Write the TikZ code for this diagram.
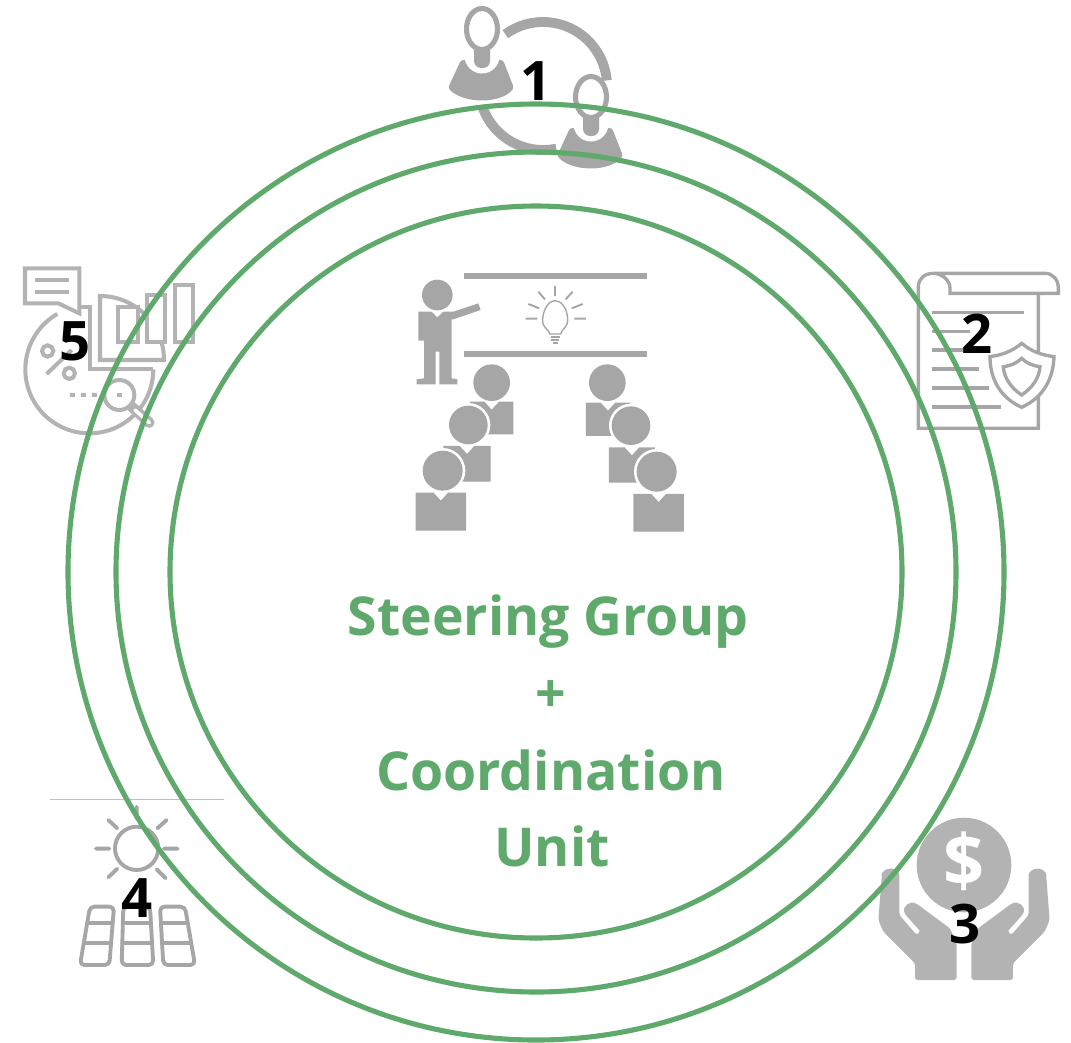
\documentclass[tikz,border=0pt]{standalone}
\usepackage{fontspec}
\setmainfont{Open Sans}
\definecolor{ringgreen}{HTML}{5EA96B}
\definecolor{icongray}{HTML}{A6A6A6}
\definecolor{icongrayb}{HTML}{B3B3B3}
\tikzset{
  ring/.style={draw=ringgreen,line width=2.9pt},
  numlabel/.style={anchor=base,inner sep=0pt,text=black,font=\fontsize{31}{31}\selectfont\bfseries},
  titlelabel/.style={anchor=base,inner sep=0pt,text=ringgreen,font=\fontsize{30.5}{31}\selectfont\bfseries},
  stroke5/.style={draw=icongrayb,line width=2.3pt},
  stroke2/.style={draw=icongray,line width=1.9pt},
  stroke4/.style={draw=icongray,line width=2.2pt,line cap=round,line join=round},
}
\newcommand{\myperson}[2]{%
  \begin{scope}[shift={(#1,#2)}]
    \fill[icongray,rounded corners=1.5pt] (461,60) -- (503,60) -- (514,88) .. controls (500,104) and (464,104) .. (448,88) -- cycle;
    \fill[white] (482,56) circle[radius=17.5];
    \fill[icongray,rounded corners=4pt] (474,44) rectangle (490,68);
    \draw[icongray,line width=2.9pt,fill=white] (482,29) ellipse[x radius=15.5,y radius=20.5];
  \end{scope}}
\newcommand{\mystudent}[7]{% head x,y,r; body x1,y1,x2,y2
  \fill[white] (#1,#2) circle[radius=#3+8];
  \fill[icongray] (#1,#2) circle[radius=#3];
  \fill[icongray] (#4,#5) -- ({(#4+#6)/2-22},#5) -- ({(#4+#6)/2},#5+24) -- ({(#4+#6)/2+22},#5) -- (#6,#5) -- (#6,#7) -- (#4,#7) -- cycle;}
\newcommand{\myhand}{%
  \fill[icongrayb,rounded corners=1.5pt] (65,232) arc[start angle=180,end angle=360,radius=26.5] -- (118,345) -- (170,405) -- (182,395) -- (137,345) .. controls (125,320) and (150,300) .. (175,315) -- (270,385) -- (290,430) -- (290,540) -- (165,540) -- (165,490) -- (70,395) -- (55,360) -- cycle;}
\begin{document}
\begin{tikzpicture}[x=0.02cm,y=0.02cm,yscale=-1]
\useasboundingbox (0,0) rectangle (1071,1042);
% icon 1
\draw[icongray,line width=5.6pt] (543,86) ++(234:64) arc[start angle=234,end angle=355,radius=64];
\draw[icongray,line width=5.6pt] (543,86) ++(78:64) arc[start angle=78,end angle=160,radius=64];
\myperson{0}{0}
\myperson{109}{68}
% presenter icon
\begin{scope}[shift={(400,260)},scale=0.3333]
  \fill[icongray] (193,38) rectangle (740,57);
  \fill[icongray] (193,272) rectangle (740,291);
  \fill[icongray] (112,105) circle[radius=46];
  \fill[icongray] (55,155) -- (95,155) -- (112,172) -- (130,155) -- (160,155) -- (235,130) -- (242,150) -- (160,178) -- (155,178) -- (155,355) -- (172,358) -- (172,373) -- (118,373) -- (118,275) -- (107,275) -- (107,373) -- (50,373) -- (50,358) -- (72,355) -- (72,242) -- (55,242) -- cycle;
  \draw[icongray,line width=1.1pt] (465,78) -- (465,108) (415,95) -- (435,118) (518,95) -- (497,118) (385,132) -- (418,145) (548,132) -- (515,145) (377,176) -- (412,176) (523,176) -- (558,176);
  \draw[icongray,line width=0.8pt] (450,222) .. controls (445,205) and (425,205) .. (428,175) .. controls (432,140) and (450,122) .. (465,122) .. controls (482,122) and (500,140) .. (503,175) .. controls (505,205) and (485,205) .. (482,222) -- cycle;
  \draw[icongray,line width=1.1pt] (452,232) -- (480,232) (454,241) -- (478,241) (458,250) -- (474,250);
  \mystudent{275}{368}{55}{210}{425}{340}{523}
  \mystudent{205}{495}{58}{130}{558}{272}{665}
  \mystudent{128}{632}{60}{47}{698}{198}{812}
  \mystudent{622}{368}{55}{558}{428}{690}{528}
  \mystudent{693}{497}{58}{627}{562}{765}{668}
  \mystudent{770}{635}{60}{700}{702}{852}{815}
\end{scope}
% icon 5
\begin{scope}[shift={(0,250)},scale=0.3333]
  \draw[stroke5] (75,55) -- (238,55) -- (238,190) -- (175,160) -- (75,160) -- cycle;
  \draw[stroke5] (105,90) -- (208,90) (105,125) -- (208,125);
  \draw[stroke5] (460,358) arc[start angle=0,end angle=240,radius=192];
  \draw[stroke5] (238,170) -- (270,170) -- (270,358) -- (460,358);
  \draw[stroke5,fill=white] (300,330) -- (300,138) arc[start angle=270,end angle=360,radius=192] -- cycle;
  \draw[stroke5,fill=white] (355,170) rectangle (415,275);
  \draw[stroke5,fill=white] (440,135) rectangle (495,275);
  \draw[stroke5,fill=white] (525,105) rectangle (578,275);
  \draw[stroke5] (143,303) circle[radius=17] (208,370) circle[radius=17] (140,372) -- (215,300);
  \fill[icongrayb] (210,429) rectangle (225,441) (243,429) rectangle (258,441) (276,429) rectangle (291,441);
  \draw[icongrayb,line width=6pt,line cap=round] (395,470) -- (448,518);
  \draw[white,line width=2pt,line cap=round] (405,480) -- (448,518);
  \draw[stroke5,fill=white] (358,435) circle[radius=45];
  \fill[icongrayb] (350,428) rectangle (365,442);
\end{scope}
% icon 2
\begin{scope}[shift={(900,260)},scale=0.3333]
  \draw[stroke2] (415,100) -- (415,505) -- (55,505) -- (55,80) .. controls (55,55) and (75,40) .. (100,40) -- (435,40) .. controls (460,40) and (475,60) .. (475,85) -- (475,100) -- (150,100) -- (150,85) .. controls (150,60) and (125,40) .. (100,40);
  \draw[stroke2] (95,158) -- (372,158) (95,214) -- (210,214) (95,270) -- (190,270) (95,327) -- (238,327) (95,384) -- (268,384) (95,441) -- (302,441);
  \draw[stroke2,fill=white] (365,250) .. controls (335,275) and (305,285) .. (270,290) .. controls (270,350) and (295,410) .. (365,442) .. controls (435,410) and (460,350) .. (462,290) .. controls (425,285) and (395,275) .. (365,250) -- cycle;
  \draw[stroke2] (365,295) .. controls (350,310) and (330,318) .. (310,320) .. controls (312,355) and (335,385) .. (365,405) .. controls (395,385) and (418,355) .. (420,320) .. controls (400,318) and (380,310) .. (365,295) -- cycle;
\end{scope}
% icon 3
\begin{scope}[shift={(860,800)},scale=0.3333]
  \fill[icongrayb] (312,195) circle[radius=142];
  \node[inner sep=0pt,text=white,font=\fontsize{41}{41}\selectfont\bfseries] (dollar) at (312,183) {\$};
  \myhand
  \begin{scope}[shift={(624,0)},xscale=-1]
    \myhand
  \end{scope}
\end{scope}
% icon 4
\begin{scope}[shift={(40,790)},scale=0.3333]
  \draw[draw=black!25,line width=0.5pt] (30,28) -- (553,28);
  \draw[stroke4] (290,175) circle[radius=65];
  \draw[stroke4] (290,50) -- (290,85) (205,90) -- (232,115) (380,90) -- (352,115) (168,176) -- (208,176) (372,176) -- (413,176) (205,262) -- (232,236) (377,265) -- (350,238);
  \begin{scope}[rounded corners=2.5pt]
    \draw[stroke4] (150,350) -- (222,350) -- (208,525) -- (120,525) -- cycle;
    \draw[stroke4] (250,350) -- (330,350) -- (340,525) -- (245,525) -- cycle;
    \draw[stroke4] (360,350) -- (435,350) -- (465,525) -- (370,525) -- cycle;
  \end{scope}
  \draw[stroke4] (143,398) -- (218,398) (250,398) -- (332,398) (365,398) -- (440,398) (133,458) -- (213,458) (247,458) -- (336,458) (368,458) -- (450,458);
\end{scope}
% rings
\draw[ring] (536,572) circle[radius=468];
\draw[ring] (536,572) circle[radius=420];
\draw[ring] (536,572) circle[radius=366];
% numbers
\node[numlabel] (n1) at (536,100) {1};
\node[numlabel] (n2) at (977,353) {2};
\node[numlabel] (n3) at (965,943) {3};
\node[numlabel] (n4) at (137,917) {4};
\node[numlabel] (n5) at (75,360) {5};
% title
\node[titlelabel] (t1) at (548,635) {Steering Group};
\node[titlelabel] (t2) at (551,712) {+};
\node[titlelabel] (t3) at (551,790) {Coordination};
\node[titlelabel] (t4) at (552,866) {Unit};
\end{tikzpicture}
\end{document}
